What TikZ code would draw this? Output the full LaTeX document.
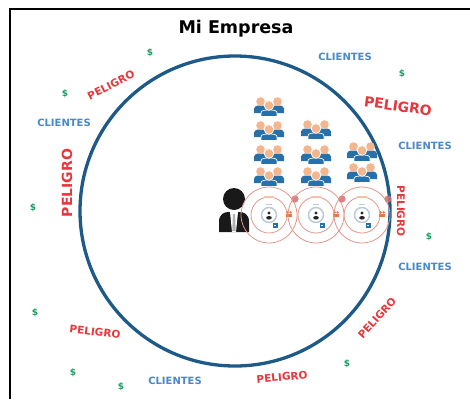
\documentclass[tikz,border=0pt]{standalone}
\usepackage{fontspec}
\setmainfont{DejaVu Sans}

\definecolor{azulcirculo}{RGB}{30,90,135}
\definecolor{azulclientes}{RGB}{74,136,199}
\definecolor{rojo}{RGB}{232,55,60}
\definecolor{verde}{RGB}{25,158,95}
\definecolor{cuerpo}{RGB}{40,112,170}
\definecolor{cabeza}{RGB}{244,182,142}
\definecolor{salmon}{RGB}{228,150,138}
\definecolor{gris}{RGB}{188,202,216}
\definecolor{naranja}{RGB}{236,118,60}
\definecolor{punto}{RGB}{212,112,112}

\tikzset{
  anillo/.style={draw=salmon, line width=0.8pt},
  % three people: two behind, one in front
  grupo/.pic={
    \foreach \dx in {-8.5,8.5}{
      \fill[cuerpo] (\dx-6.5,6) -- (\dx-6.5,1.5) .. controls (\dx-6.5,-1) and (\dx-4,-1.5) .. (\dx,-1.5)
        .. controls (\dx+4,-1.5) and (\dx+6.5,-1) .. (\dx+6.5,1.5) -- (\dx+6.5,6) -- cycle;
      \fill[cabeza] (\dx,-5.5) circle (4.3pt);
    }
    \filldraw[fill=cuerpo, draw=white, line width=0.7pt] (-8,9.5) -- (-8,6) .. controls (-8,3.5) and (-5,3) .. (0,3)
      .. controls (5,3) and (8,3.5) .. (8,6) -- (8,9.5) -- cycle;
    \filldraw[fill=cabeza, draw=white, line width=0.7pt] (0,-1.5) circle (4.8pt);
  },
  % rings around one worker
  nucleo/.pic={
    \draw[anillo] (0,0) circle (28pt);
    \draw[anillo] (0,0) circle (18pt);
    \fill[naranja!45] (-5,-18.7) rectangle (5,-17.3);
    \fill[gris] (-3,-10.6) rectangle (3,-9.8);
    \filldraw[draw=gris, fill=white, line width=1.5pt] (0,0) circle (7.5pt);
    \fill[black!85] (0,-2) circle (1.7pt);
    \fill[black!85] (0,2.8) ellipse (2.8pt and 1.8pt);
    \fill[naranja] (18.6,-2.6) circle (1.3pt) (21.6,-2.6) circle (1.3pt);
    \fill[naranja] (16.8,1.6) rectangle (23.4,-1.2);
    \fill[cuerpo] (3.5,8) rectangle (8.5,12.5);
    \fill[white] (5,9.5) rectangle (7,10.5);
    \fill[punto, opacity=0.85] (26,-16) circle (3.6pt);
  }
}

\begin{document}
\begin{tikzpicture}[x=1pt, y=-1pt,
  clientes/.style={text=azulclientes, font=\bfseries\fontsize{10}{12}\selectfont},
  peligro/.style={text=rojo, font=\bfseries\fontsize{10.5}{12}\selectfont},
  peligro grande/.style={text=rojo, font=\bfseries\fontsize{14}{16}\selectfont},
  dinero/.style={text=verde, font=\bfseries\fontsize{9}{10}\selectfont}]
  \useasboundingbox (0,0) rectangle (470,399);
  \fill[white] (0,0) rectangle (470,399);
  \draw[line width=2pt] (10,399) -- (10,8.5) -- (470,8.5);

  \node[font=\bfseries\fontsize{17.5}{20}\selectfont] (titulo) at (236,29) {Mi Empresa};

  \draw[azulcirculo, line width=3.3pt] (235,211) circle (155pt);

  % people waiting above the workers
  \foreach \y in {107,131,155,177} \pic at (269,\y) {grupo};
  \foreach \y in {130,155,177} \pic at (316,\y) {grupo};
  \foreach \y in {152,173} \pic at (362,\y) {grupo};

  % the boss
  \fill[black!90] (234,199) circle (11pt);
  \fill[black!90] (219,232) -- (219,222) .. controls (219,214) and (224,212) .. (229,212)
    -- (239,212) .. controls (244,212) and (249,214) .. (249,222) -- (249,232) -- cycle;
  \fill[white] (230,212) -- (238,212) -- (236,232) -- (232,232) -- cycle;
  \fill[gray!60] (233,214) -- (235,214) -- (235.8,231) -- (232.2,231) -- cycle;

  \foreach \x in {269,316,362} \pic at (\x,215) {nucleo};

  \node[clientes] (cli1) at (345,57) {CLIENTES};
  \node[clientes] (cli2) at (64,123) {CLIENTES};
  \node[clientes] (cli3) at (425,146) {CLIENTES};
  \node[clientes] (cli4) at (425,267) {CLIENTES};
  \node[clientes] (cli5) at (175,381) {CLIENTES};

  \node[peligro, rotate=27] (pel1) at (111,85) {PELIGRO};
  \node[peligro grande, rotate=-8] (pel2) at (398,106) {PELIGRO};
  \node[peligro grande, rotate=90] (pel3) at (67,183) {PELIGRO};
  \node[peligro, rotate=-90] (pel4) at (401,211) {PELIGRO};
  \node[peligro, rotate=-7] (pel5) at (95,332) {PELIGRO};
  \node[peligro, rotate=48] (pel6) at (377,318) {PELIGRO};
  \node[peligro, rotate=5] (pel7) at (282,377) {PELIGRO};

  \node[dinero] (d1) at (150,53) {\$};
  \node[dinero] (d2) at (65,94) {\$};
  \node[dinero] (d3) at (402,74) {\$};
  \node[dinero] (d4) at (33,208) {\$};
  \node[dinero] (d5) at (429,237) {\$};
  \node[dinero] (d6) at (35,313) {\$};
  \node[dinero] (d7) at (73,373) {\$};
  \node[dinero] (d8) at (121,387) {\$};
  \node[dinero] (d9) at (347,364) {\$};
\end{tikzpicture}
\end{document}
